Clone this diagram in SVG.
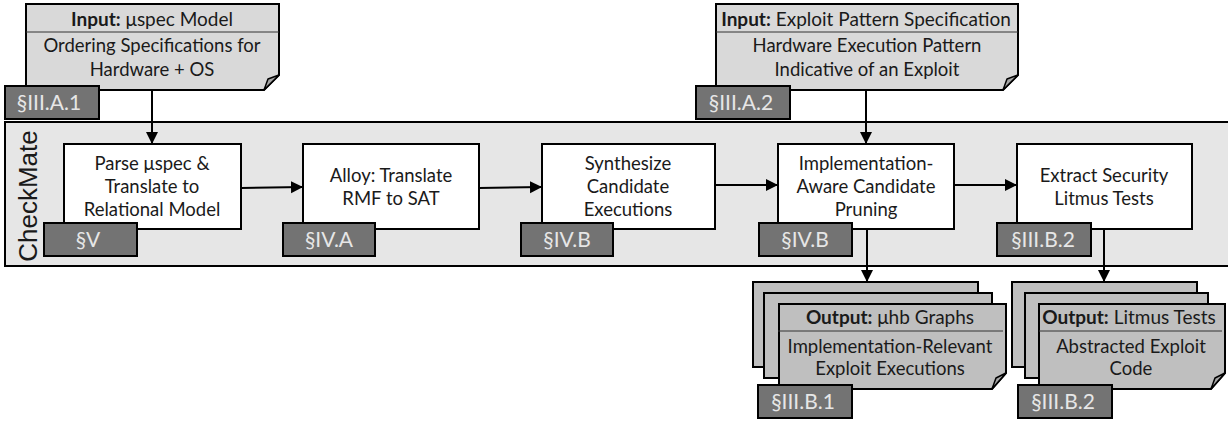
<svg xmlns="http://www.w3.org/2000/svg" width="1228" height="424" viewBox="0 0 1228 424">
<style>
  .t{font-family:Lato,"Open Sans","Liberation Sans",sans-serif;font-size:18.5px;fill:#1a1a1a;text-anchor:middle}
  .h{font-size:19px}
  .b{font-weight:bold}
  .in{fill:#d9d9d9;stroke:#000;stroke-width:2}
  .out{fill:#bfbfbf;stroke:#000;stroke-width:2}
  .box{fill:#fff;stroke:#000;stroke-width:2}
  .tag{fill:#737373;stroke:#000;stroke-width:2}
  .tagt{font-family:Lato,"Open Sans","Liberation Sans",sans-serif;font-size:21px;fill:#e6e6e6;text-anchor:middle}
  .fold{fill:#a6a6a6;stroke:#000;stroke-width:1.5;stroke-linejoin:round}
  .div{stroke:#333;stroke-width:1}
  .c{stroke:#000;stroke-width:2;fill:none}
</style>
<defs>
  <marker id="ah" markerUnits="userSpaceOnUse" markerWidth="14" markerHeight="14" refX="12" refY="6" orient="auto">
    <path d="M0,0 L12,6 L0,12 Z" fill="#000"/>
  </marker>
</defs>
<rect x="0" y="0" width="1228" height="424" fill="#fff"/>

<!-- CheckMate band -->
<g id="checkmate">
  <rect x="5" y="122" width="1230" height="144" fill="#e6e6e6" stroke="#000" stroke-width="2"/>
  <text transform="translate(37,196) rotate(-90)" font-family="'Liberation Sans',Arial,sans-serif" font-size="26" fill="#1a1a1a" text-anchor="middle">CheckMate</text>
</g>

<!-- Input 1 -->
<g id="input1">
  <path class="in" d="M26,4 H279 V75 L264,90 H26 Z"/>
  <line class="div" x1="26" y1="32" x2="279" y2="32"/>
  <path class="fold" d="M264,90 L268,79 L279,75 Z"/>
  <text class="t h" x="152" y="26"><tspan class="b">Input:</tspan> μspec Model</text>
  <text class="t" x="152" y="52">Ordering Specifications for</text>
  <text class="t" x="152" y="76">Hardware + OS</text>
  <rect class="tag" x="5" y="86" width="94" height="33"/>
  <text class="tagt" x="49" y="110">§III.A.1</text>
</g>

<!-- Input 2 -->
<g id="input2">
  <path class="in" d="M716,4 H1018 V75 L1003,90 H716 Z"/>
  <line class="div" x1="716" y1="32" x2="1018" y2="32"/>
  <path class="fold" d="M1003,90 L1007,79 L1018,75 Z"/>
  <text class="t h" x="866" y="26"><tspan class="b">Input:</tspan> Exploit Pattern Specification</text>
  <text class="t" x="867" y="52">Hardware Execution Pattern</text>
  <text class="t" x="867" y="76">Indicative of an Exploit</text>
  <rect class="tag" x="696" y="86" width="94" height="33"/>
  <text class="tagt" x="741" y="110">§III.A.2</text>
</g>

<!-- Connectors -->
<g id="connectors">
  <line class="c" x1="152" y1="90" x2="152" y2="144" marker-end="url(#ah)"/>
  <line class="c" x1="866" y1="90" x2="866" y2="144" marker-end="url(#ah)"/>
  <line class="c" x1="241" y1="188" x2="303" y2="187" marker-end="url(#ah)"/>
  <line class="c" x1="479" y1="188" x2="542" y2="187" marker-end="url(#ah)"/>
  <line class="c" x1="715" y1="185" x2="778" y2="185" marker-end="url(#ah)"/>
  <line class="c" x1="954" y1="185" x2="1017" y2="185" marker-end="url(#ah)"/>
  <line class="c" x1="867" y1="229" x2="867" y2="282" marker-end="url(#ah)"/>
  <line class="c" x1="1104" y1="229" x2="1104" y2="282" marker-end="url(#ah)"/>
</g>

<!-- Step boxes -->
<g id="parse">
  <rect class="box" x="64" y="144" width="177" height="85"/>
  <text class="t" x="152" y="170">Parse μspec &amp;</text>
  <text class="t" x="152" y="193">Translate to</text>
  <text class="t" x="152" y="216">Relational  Model</text>
  <rect class="tag" x="44" y="223" width="93" height="33"/>
  <text class="tagt" x="88" y="247">§V</text>
</g>
<g id="alloy">
  <rect class="box" x="303" y="144" width="176" height="85"/>
  <text class="t" x="391" y="182">Alloy: Translate</text>
  <text class="t" x="391" y="205">RMF to SAT</text>
  <rect class="tag" x="283" y="223" width="92" height="33"/>
  <text class="tagt" x="329" y="247">§IV.A</text>
</g>
<g id="synth">
  <rect class="box" x="542" y="144" width="173" height="85"/>
  <text class="t" x="628" y="170">Synthesize</text>
  <text class="t" x="628" y="193">Candidate</text>
  <text class="t" x="628" y="216">Executions</text>
  <rect class="tag" x="521" y="223" width="92" height="33"/>
  <text class="tagt" x="567" y="247">§IV.B</text>
</g>
<g id="prune">
  <rect class="box" x="778" y="144" width="176" height="85"/>
  <text class="t" x="866" y="170">Implementation-</text>
  <text class="t" x="866" y="193">Aware  Candidate</text>
  <text class="t" x="866" y="216">Pruning</text>
  <rect class="tag" x="759" y="223" width="93" height="33"/>
  <text class="tagt" x="805" y="247">§IV.B</text>
</g>
<g id="extract">
  <rect class="box" x="1017" y="144" width="175" height="85"/>
  <text class="t" x="1104" y="182">Extract Security</text>
  <text class="t" x="1104" y="205">Litmus Tests</text>
  <rect class="tag" x="997" y="223" width="94" height="33"/>
  <text class="tagt" x="1043" y="247">§III.B.2</text>
</g>

<!-- Output 1 -->
<g id="output1">
  <rect class="out" x="753" y="282" width="225" height="85"/>
  <rect class="out" x="764" y="293" width="228" height="85"/>
  <path class="out" d="M779,304 H1006 V373 L992,389 H779 Z"/>
  <path class="fold" d="M992,389 L996,378 L1006,373 Z"/>
  <line class="div" x1="778" y1="331" x2="1003" y2="331"/>
  <text class="t h" x="890" y="324"><tspan class="b">Output:</tspan> μhb Graphs</text>
  <text class="t" x="890" y="353">Implementation-Relevant</text>
  <text class="t" x="890" y="375">Exploit Executions</text>
  <rect class="tag" x="758" y="385" width="94" height="33"/>
  <text class="tagt" x="803" y="409">§III.B.1</text>
</g>

<!-- Output 2 -->
<g id="output2">
  <rect class="out" x="1012" y="282" width="185" height="85"/>
  <rect class="out" x="1025" y="293" width="183" height="85"/>
  <path class="out" d="M1039,304 H1225 V373 L1211,389 H1039 Z"/>
  <path class="fold" d="M1211,389 L1215,378 L1225,373 Z"/>
  <line class="div" x1="1039" y1="331" x2="1222" y2="331"/>
  <text class="t h" x="1129" y="324"><tspan class="b">Output:</tspan> Litmus Tests</text>
  <text class="t" x="1131" y="353">Abstracted Exploit</text>
  <text class="t" x="1131" y="375">Code</text>
  <rect class="tag" x="1018" y="385" width="94" height="33"/>
  <text class="tagt" x="1063" y="409">§III.B.2</text>
</g>
</svg>
